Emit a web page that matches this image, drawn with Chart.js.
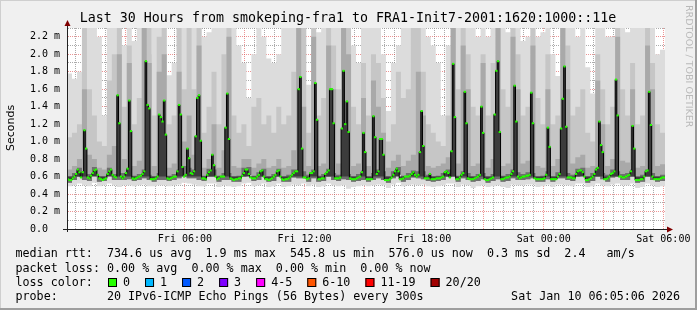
<!DOCTYPE html>
<html lang="en">
<head>
<meta charset="UTF-8">
<title>smokeping fra1 - last 30 hours</title>
<script src="https://cdn.jsdelivr.net/npm/chart.js"></script>
<style>
    body { margin: 0; background: #f0f0f0; }
    canvas { display: block; }
</style>
</head>
<body>
<canvas id="myChart" width="697" height="310"></canvas>
<script>
// time axis: minutes since Fri 00:00, graph runs Fri 00:05 -> Sat 06:05
const startMin = 5;
const medianStep = 5;   // median rtt every 5 minutes (360 values)
const smokeStep = 15;   // smoke bands read per 15 minutes (120 values)

// median rtt in ms
const median = [
    0.57, 0.56, 0.56, 0.58, 0.60, 0.63, 0.68, 0.65, 0.59, 0.65, 1.13, 0.92,
    0.59, 0.58, 0.61, 0.64, 0.67, 0.68, 0.62, 0.58, 0.57, 0.56, 0.57, 0.58,
    0.63, 0.66, 0.68, 0.62, 0.60, 0.59, 1.53, 1.21, 0.60, 0.58, 0.60, 0.64,
    0.69, 1.47, 1.12, 0.58, 0.57, 0.58, 0.59, 0.60, 0.61, 0.63, 0.66, 1.92,
    1.42, 1.38, 0.57, 0.57, 0.57, 0.58, 0.60, 1.31, 1.28, 1.23, 1.47, 1.08,
    0.58, 0.57, 0.58, 0.59, 0.60, 0.60, 0.66, 1.42, 1.31, 0.71, 0.60, 0.62,
    0.92, 0.81, 0.64, 0.63, 0.66, 1.06, 1.50, 1.53, 1.01, 0.58, 0.58, 0.57,
    0.62, 0.65, 0.67, 0.85, 0.73, 0.60, 0.57, 0.58, 0.60, 0.60, 0.60, 1.16,
    1.55, 1.03, 0.58, 0.57, 0.56, 0.57, 0.57, 0.58, 0.58, 0.61, 0.64, 0.68,
    0.68, 0.63, 0.59, 0.58, 0.58, 0.58, 0.60, 0.62, 0.66, 0.67, 0.60, 0.57,
    0.57, 0.56, 0.57, 0.58, 0.60, 0.62, 0.66, 0.67, 0.60, 0.57, 0.56, 0.57,
    0.57, 0.58, 0.60, 0.62, 0.64, 0.66, 0.66, 1.60, 1.74, 0.92, 0.59, 0.59,
    0.57, 0.58, 0.64, 0.64, 0.66, 1.67, 1.25, 0.57, 0.57, 0.58, 0.58, 0.63,
    0.65, 0.67, 1.60, 1.60, 1.21, 0.58, 0.58, 0.58, 0.59, 1.15, 1.81, 1.20,
    1.46, 1.11, 0.58, 0.57, 0.57, 0.57, 0.58, 0.59, 0.60, 0.65, 1.10, 0.88,
    0.57, 0.57, 0.57, 0.57, 1.29, 1.05, 0.63, 0.66, 1.03, 1.03, 0.85, 0.56,
    0.56, 0.56, 0.57, 0.59, 0.62, 0.66, 0.69, 0.66, 0.57, 0.57, 0.58, 0.60,
    0.60, 0.60, 0.61, 0.63, 0.65, 0.62, 0.60, 0.62, 0.88, 1.35, 0.95, 0.58,
    0.58, 0.58, 0.63, 0.57, 0.57, 0.57, 0.58, 0.58, 0.58, 0.59, 0.60, 0.65,
    0.66, 0.64, 0.59, 0.89, 1.89, 1.28, 0.57, 0.57, 0.59, 0.62, 0.64, 1.57,
    1.21, 0.58, 0.57, 0.57, 0.57, 0.58, 0.59, 0.60, 0.62, 1.40, 1.10, 0.57,
    0.56, 0.56, 0.57, 0.58, 0.59, 1.31, 1.81, 1.92, 1.11, 0.57, 0.57, 0.58,
    0.59, 0.59, 0.60, 0.63, 0.66, 1.64, 1.23, 0.60, 0.58, 0.59, 0.60, 0.60,
    0.61, 0.61, 0.62, 1.56, 1.21, 0.58, 0.57, 0.57, 0.57, 0.57, 0.57, 0.58,
    0.62, 1.16, 0.94, 0.57, 0.57, 0.57, 0.57, 0.60, 0.63, 1.15, 1.49, 1.86,
    1.17, 0.59, 0.59, 0.59, 0.58, 0.58, 0.63, 0.66, 0.67, 0.67, 0.65, 0.60,
    0.56, 0.56, 0.57, 0.58, 0.60, 0.63, 0.68, 0.70, 1.23, 0.96, 0.88, 0.57,
    0.57, 0.58, 0.60, 0.63, 0.64, 0.66, 1.71, 1.30, 0.60, 0.60, 0.59, 0.59,
    0.60, 0.61, 0.62, 0.66, 1.18, 0.92, 0.56, 0.56, 0.56, 0.57, 0.57, 0.60,
    0.66, 0.67, 1.57, 1.19, 0.60, 0.57, 0.57, 0.57, 0.57, 0.58, 0.59, 0.59
];

// smoke: lowest ping of each 15 min bin
const smokeMin = [
    0.49, 0.50, 0.52, 0.50, 0.49, 0.53, 0.49, 0.50, 0.52, 0.50, 0.48, 0.50,
    0.50, 0.49, 0.50, 0.51, 0.49, 0.49, 0.50, 0.50, 0.49, 0.50, 0.51, 0.53,
    0.52, 0.51, 0.49, 0.49, 0.52, 0.52, 0.48, 0.50, 0.49, 0.48, 0.49, 0.52,
    0.53, 0.49, 0.50, 0.52, 0.48, 0.49, 0.52, 0.48, 0.49, 0.51, 0.50, 0.52,
    0.49, 0.51, 0.48, 0.49, 0.52, 0.50, 0.49, 0.50, 0.46, 0.48, 0.49, 0.50,
    0.49, 0.50, 0.51, 0.50, 0.47, 0.51, 0.53, 0.49, 0.50, 0.51, 0.50, 0.51,
    0.49, 0.48, 0.49, 0.50, 0.52, 0.52, 0.48, 0.51, 0.50, 0.47, 0.49, 0.50,
    0.48, 0.49, 0.50, 0.48, 0.47, 0.51, 0.50, 0.50, 0.51, 0.51, 0.48, 0.49,
    0.51, 0.48, 0.51, 0.51, 0.50, 0.49, 0.52, 0.52, 0.48, 0.49, 0.52, 0.50,
    0.49, 0.51, 0.52, 0.50, 0.50, 0.52, 0.47, 0.48, 0.52, 0.50, 0.48, 0.49
];

// smoke: bottom of the darker inner pings
const smokeBase = [
    0.53, 0.56, 0.60, 0.56, 0.55, 0.62, 0.54, 0.55, 0.61, 0.56, 0.56, 0.56,
    0.57, 0.55, 0.56, 0.58, 0.56, 0.54, 0.56, 0.56, 0.55, 0.56, 0.58, 0.62,
    0.58, 0.58, 0.56, 0.55, 0.60, 0.60, 0.54, 0.56, 0.56, 0.54, 0.54, 0.60,
    0.62, 0.55, 0.56, 0.60, 0.54, 0.55, 0.60, 0.54, 0.54, 0.59, 0.58, 0.58,
    0.54, 0.58, 0.54, 0.55, 0.60, 0.56, 0.55, 0.57, 0.56, 0.54, 0.55, 0.56,
    0.54, 0.56, 0.58, 0.56, 0.53, 0.58, 0.62, 0.54, 0.56, 0.59, 0.58, 0.57,
    0.55, 0.54, 0.55, 0.56, 0.60, 0.60, 0.54, 0.58, 0.56, 0.54, 0.55, 0.57,
    0.53, 0.55, 0.57, 0.54, 0.55, 0.58, 0.56, 0.56, 0.57, 0.58, 0.54, 0.54,
    0.57, 0.54, 0.58, 0.58, 0.56, 0.55, 0.60, 0.61, 0.53, 0.55, 0.60, 0.57,
    0.54, 0.59, 0.60, 0.56, 0.56, 0.60, 0.53, 0.54, 0.60, 0.56, 0.54, 0.55
];

// smoke: top of the darkest pings, hugging the median
const smokeCore = [
    0.60, 0.64, 0.70, 0.66, 0.63, 0.71, 0.60, 0.60, 0.70, 0.63, 0.64, 0.64,
    0.70, 0.61, 0.63, 0.68, 0.62, 0.60, 0.64, 0.64, 0.61, 0.63, 0.68, 0.72,
    0.70, 0.68, 0.64, 0.61, 0.69, 0.68, 0.61, 0.64, 0.64, 0.60, 0.61, 0.70,
    0.71, 0.61, 0.65, 0.69, 0.60, 0.63, 0.69, 0.60, 0.62, 0.68, 0.68, 0.66,
    0.62, 0.68, 0.61, 0.63, 0.69, 0.64, 0.62, 0.66, 0.63, 0.60, 0.63, 0.67,
    0.60, 0.64, 0.68, 0.66, 0.60, 0.66, 0.71, 0.61, 0.64, 0.67, 0.66, 0.66,
    0.62, 0.60, 0.61, 0.64, 0.68, 0.68, 0.61, 0.66, 0.64, 0.60, 0.63, 0.64,
    0.60, 0.63, 0.66, 0.61, 0.63, 0.68, 0.65, 0.63, 0.65, 0.64, 0.60, 0.61,
    0.66, 0.60, 0.65, 0.66, 0.64, 0.62, 0.69, 0.70, 0.60, 0.64, 0.70, 0.64,
    0.62, 0.68, 0.66, 0.63, 0.64, 0.68, 0.59, 0.62, 0.68, 0.64, 0.60, 0.62
];

// smoke: top of the dark grey pings
const smokeMid = [
    0.68, 0.72, 0.80, 1.60, 0.85, 0.80, 0.70, 0.68, 0.85, 0.95, 2.00, 0.80,
    1.90, 0.72, 0.78, 2.30, 1.90, 0.72, 1.80, 2.00, 0.70, 0.75, 1.80, 1.00,
    1.30, 0.85, 2.10, 0.70, 0.80, 1.20, 0.70, 0.90, 2.20, 0.72, 0.70, 0.80,
    0.80, 0.70, 0.75, 0.80, 0.70, 0.72, 0.80, 0.70, 0.72, 0.90, 2.30, 1.40,
    0.72, 2.20, 0.72, 0.75, 2.10, 1.60, 0.75, 2.30, 2.00, 0.72, 0.75, 1.50,
    0.72, 1.70, 1.40, 1.10, 0.70, 0.78, 0.85, 0.72, 0.78, 0.85, 1.80, 1.30,
    0.72, 0.70, 0.72, 0.75, 0.82, 2.30, 0.75, 2.10, 1.60, 0.72, 0.75, 1.90,
    0.70, 0.80, 2.30, 0.72, 0.75, 2.20, 1.60, 0.75, 0.78, 2.10, 0.72, 0.70,
    1.60, 0.72, 0.80, 2.30, 1.60, 0.75, 0.82, 0.85, 0.70, 0.72, 1.70, 1.20,
    0.72, 0.80, 2.20, 0.78, 0.76, 1.60, 0.70, 0.72, 2.10, 1.60, 0.72, 0.74
];

// smoke: top of the mid grey pings
const smokeUpper = [
    1.05, 1.10, 1.20, 2.30, 1.60, 1.30, 1.00, 0.95, 1.70, 2.00, 2.30, 1.40,
    2.10, 1.20, 1.50, 2.30, 2.30, 1.30, 2.20, 2.30, 1.20, 1.30, 2.30, 1.60,
    2.30, 1.60, 2.30, 1.10, 1.40, 1.80, 1.20, 2.00, 2.30, 1.30, 1.10, 1.20,
    0.95, 1.40, 1.50, 1.20, 1.30, 1.10, 1.40, 1.20, 1.30, 1.80, 2.30, 2.30,
    1.10, 2.30, 1.30, 1.50, 2.30, 2.10, 1.60, 2.30, 2.30, 1.40, 1.20, 1.90,
    1.30, 2.00, 1.90, 1.50, 1.00, 1.20, 1.80, 1.50, 1.60, 2.30, 2.30, 1.80,
    1.20, 1.10, 1.00, 0.95, 1.30, 2.30, 1.60, 2.30, 2.00, 1.40, 1.30, 2.00,
    1.30, 1.90, 2.30, 1.60, 1.40, 2.30, 2.00, 1.30, 1.40, 2.30, 1.50, 1.20,
    2.00, 1.20, 1.30, 2.30, 2.10, 1.30, 1.40, 1.60, 1.10, 1.00, 2.00, 1.60,
    1.20, 1.40, 2.30, 1.60, 1.30, 1.90, 1.20, 1.30, 2.30, 1.90, 1.20, 1.10
];

// smoke: highest ping of each bin (2.3 = off the top)
const smokeMax = [
    1.78, 1.72, 1.80, 2.30, 2.30, 2.30, 2.20, 1.30, 2.30, 2.30, 2.30, 2.10,
    2.30, 2.15, 2.30, 2.30, 2.00, 2.30, 2.30, 2.30, 1.76, 1.90, 2.30, 2.30,
    2.30, 2.30, 2.30, 2.20, 2.25, 2.30, 2.30, 2.30, 2.30, 2.30, 2.10, 1.90,
    1.50, 2.00, 2.30, 2.20, 1.95, 1.90, 2.00, 2.30, 2.30, 2.30, 2.30, 2.30,
    1.65, 2.30, 2.25, 2.30, 2.30, 2.30, 2.30, 2.30, 2.30, 2.10, 1.90, 2.30,
    2.30, 2.30, 2.30, 2.00, 1.35, 1.90, 2.10, 2.30, 2.30, 2.30, 2.30, 2.30,
    2.20, 2.10, 1.90, 1.30, 2.10, 2.30, 2.30, 2.30, 2.30, 2.30, 2.20, 2.30,
    2.20, 2.30, 2.30, 2.30, 2.25, 2.30, 2.30, 2.15, 2.20, 2.30, 2.20, 2.25,
    2.30, 2.00, 1.75, 2.30, 2.30, 2.30, 2.20, 2.30, 1.85, 1.55, 2.30, 2.30,
    2.20, 2.20, 2.30, 2.30, 2.25, 2.30, 2.30, 2.30, 2.30, 2.30, 2.00, 2.05
];

const xTickValues = [360, 720, 1080, 1440, 1800];
const xTickLabels = ['Fri 06:00', 'Fri 12:00', 'Fri 18:00', 'Sat 00:00', 'Sat 06:00'];

const lossColors = ['#26ff00', '#00b8ff', '#0059ff', '#7e00ff', '#ff00ff', '#ff5500', '#ff0000', '#a10000'];
const lossLabels = ['0', '1', '2', '3', '4-5', '6-10', '11-19', '20/20'];

const legendLines = [
    'median rtt:  734.6 us avg  1.9 ms max  545.8 us min  576.0 us now  0.3 ms sd  2.4   am/s',
    'packet loss: 0.00 % avg  0.00 % max  0.00 % min  0.00 % now',
    'loss color:',
    'probe:       20 IPv6-ICMP Echo Pings (56 Bytes) every 300s'
];
const probeDate = 'Sat Jan 10 06:05:06 2026';
const title = 'Last 30 Hours from smokeping-fra1 to FRA1-Init7-2001:1620:1000::11e';

const gridCol = 'rgba(143,143,143,0.75)';
const mgridCol = 'rgba(222,79,79,0.6)';
const mono = '"DejaVu Sans Mono", monospace';

// points at the start of each bin, plus one at the end so the last step is drawn
function stepPoints(arr, step) {
    var pts = arr.map(function (v, i) { return { x: startMin + i * step, y: v }; });
    pts.push({ x: startMin + arr.length * step, y: arr[arr.length - 1] });
    return pts;
}
// points in the middle of each bin, for the green loss marks
function midPoints(arr, step) {
    return arr.map(function (v, i) { return { x: startMin + i * step + step / 2, y: v }; });
}

function smokeSet(arr, fillTo, colour, order) {
    return {
        data: stepPoints(arr, smokeStep),
        stepped: true,
        borderWidth: 0,
        pointRadius: 0,
        fill: fillTo,
        backgroundColor: colour,
        order: order
    };
}

const backgroundPlugin = {
    id: 'background',
    beforeDraw: function (chart) {
        var ctx = chart.ctx, a = chart.chartArea, w = chart.width, h = chart.height;
        ctx.save();
        ctx.fillStyle = '#f0f0f0';
        ctx.fillRect(0, 0, w, h);
        ctx.fillStyle = '#cfcfcf';
        ctx.fillRect(0, 0, w, 1);
        ctx.fillRect(0, 0, 1, h);
        ctx.fillStyle = '#9e9e9e';
        ctx.fillRect(0, h - 2, w, 2);
        ctx.fillRect(w - 2, 0, 2, h);
        ctx.fillStyle = '#ffffff';
        ctx.fillRect(a.left, a.top, a.right - a.left, a.bottom - a.top);
        ctx.restore();
    }
};

const overlayPlugin = {
    id: 'overlay',
    afterDraw: function (chart) {
        var ctx = chart.ctx, a = chart.chartArea;
        ctx.save();

        // axis extensions and arrows
        ctx.strokeStyle = '#212121';
        ctx.lineWidth = 1;
        ctx.beginPath();
        ctx.moveTo(a.left - 4, a.bottom + 0.5);
        ctx.lineTo(a.right + 3, a.bottom + 0.5);
        ctx.moveTo(a.left + 0.5, a.bottom + 3);
        ctx.lineTo(a.left + 0.5, a.top - 3);
        ctx.stroke();
        ctx.fillStyle = '#800000';
        ctx.beginPath();
        ctx.moveTo(a.right + 8, a.bottom + 0.5);
        ctx.lineTo(a.right + 2, a.bottom - 2.5);
        ctx.lineTo(a.right + 2, a.bottom + 3.5);
        ctx.closePath();
        ctx.fill();
        ctx.beginPath();
        ctx.moveTo(a.left + 0.5, a.top - 8);
        ctx.lineTo(a.left - 2.5, a.top - 2);
        ctx.lineTo(a.left + 3.5, a.top - 2);
        ctx.closePath();
        ctx.fill();

        // title
        ctx.fillStyle = '#000';
        ctx.font = '13.3px ' + mono;
        ctx.textAlign = 'center';
        ctx.textBaseline = 'middle';
        ctx.fillText(title, 348, 19);

        // vertical axis label
        ctx.save();
        ctx.translate(11, 128);
        ctx.rotate(-Math.PI / 2);
        ctx.font = '11px "DejaVu Sans", sans-serif';
        ctx.fillText('Seconds', 0, 0);
        ctx.restore();

        // watermark
        ctx.save();
        ctx.translate(688, 5);
        ctx.rotate(Math.PI / 2);
        ctx.textAlign = 'left';
        ctx.font = '9.5px "DejaVu Sans", sans-serif';
        ctx.fillStyle = '#b9b9b9';
        ctx.fillText('RRDTOOL / TOBI OETIKER', 0, 0);
        ctx.restore();

        // legend text
        var rows = [254, 268.5, 282.5, 297];
        ctx.font = '11.7px ' + mono;
        ctx.textAlign = 'left';
        ctx.fillStyle = '#000';
        for (var i = 0; i < legendLines.length; i++) {
            ctx.fillText(legendLines[i], 15.5, rows[i]);
        }
        ctx.textAlign = 'right';
        ctx.fillText(probeDate, 680, rows[3]);

        // loss colour boxes
        ctx.textAlign = 'left';
        var bx = 108;
        for (var k = 0; k < lossColors.length; k++) {
            ctx.fillStyle = lossColors[k];
            ctx.fillRect(bx, rows[2] - 4.5, 9, 9);
            ctx.strokeStyle = '#000';
            ctx.strokeRect(bx + 0.5, rows[2] - 4, 8, 8);
            ctx.fillStyle = '#000';
            var lx = bx + 15;
            ctx.fillText(lossLabels[k], lx, rows[2]);
            bx = lx + ctx.measureText(lossLabels[k]).width + 15;
        }
        ctx.restore();
    }
};

var ctx = document.getElementById('myChart').getContext('2d');
var myChart = new Chart(ctx, {
    type: 'line',
    data: {
        datasets: [
            {   // 0: green marks on the median (0 % loss)
                data: midPoints(median, medianStep),
                showLine: false,
                pointStyle: 'line',
                pointRadius: 1.1,
                pointBorderWidth: 2,
                pointBorderColor: lossColors[0],
                order: 0
            },
            {   // 1: median line, spikes shaded dark down to the baseline
                data: stepPoints(median, medianStep),
                stepped: true,
                borderColor: '#000000',
                borderWidth: 1,
                pointRadius: 0,
                fill: { value: 0.6 },
                backgroundColor: '#3c3c3c',
                order: 1
            },
            smokeSet(smokeBase, false, 'transparent', 9),  // 2
            smokeSet(smokeCore, 2, '#6e6e6e', 2),          // 3
            smokeSet(smokeMid, 2, '#a9a9a9', 3),           // 4
            smokeSet(smokeUpper, 2, '#c6c6c6', 4),         // 5
            smokeSet(smokeMax, 7, '#dcdcdc', 5),           // 6
            smokeSet(smokeMin, false, 'transparent', 9)    // 7
        ]
    },
    options: {
        responsive: false,
        devicePixelRatio: 1,
        animation: false,
        layout: { padding: { left: 0, top: 28, right: 32, bottom: 61 } },
        plugins: {
            legend: { display: false },
            tooltip: { enabled: false }
        },
        scales: {
            x: {
                type: 'linear',
                min: 5,
                max: 1805,
                z: 1,
                afterBuildTicks: function (scale) {
                    var t = [];
                    for (var v = 30; v <= 1800; v += 30) t.push({ value: v });
                    scale.ticks = t;
                },
                afterFit: function (scale) { scale.height = 20; },
                ticks: {
                    autoSkip: false,
                    maxRotation: 0,
                    padding: 4,
                    color: '#000',
                    font: { family: mono, size: 10 },
                    callback: function (v) {
                        var k = xTickValues.indexOf(v);
                        return k >= 0 ? xTickLabels[k] : '';
                    }
                },
                grid: {
                    drawTicks: false,
                    lineWidth: 1,
                    color: function (c) {
                        return c.tick && c.tick.value % 180 === 0 ? mgridCol : gridCol;
                    }
                },
                border: { color: '#212121', width: 1, dash: [1, 1] }
            },
            y: {
                min: 0,
                max: 2.3,
                z: 1,
                afterBuildTicks: function (scale) {
                    var t = [];
                    for (var i = 0; i <= 23; i++) t.push({ value: i / 10 });
                    scale.ticks = t;
                },
                afterFit: function (scale) { scale.width = 67; },
                ticks: {
                    autoSkip: false,
                    padding: 7,
                    color: '#000',
                    font: { family: mono, size: 10 },
                    callback: function (v) {
                        var n = Math.round(v * 10);
                        if (n % 2) return '';
                        return n === 0 ? '0.0  ' : (n / 10).toFixed(1) + ' m';
                    }
                },
                grid: {
                    drawTicks: false,
                    lineWidth: function (c) {
                        return c.tick && Math.round(c.tick.value * 10) === 0 ? 0 : 1;
                    },
                    color: function (c) {
                        if (!c.tick) return gridCol;
                        return Math.round(c.tick.value * 10) % 2 === 0 ? mgridCol : gridCol;
                    }
                },
                border: { color: '#212121', width: 1, dash: [1, 1] }
            }
        }
    },
    plugins: [backgroundPlugin, overlayPlugin]
});
</script>
</body>
</html>
